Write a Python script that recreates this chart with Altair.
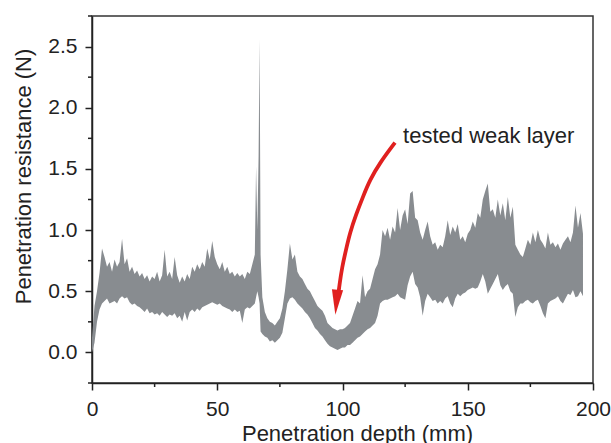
import altair as alt
import pandas as pd

# ---- signal envelope (depth mm, upper / lower resistance N)
depth = [0, 1, 2, 3, 4, 5, 6, 7, 8, 9, 10, 11, 12, 13, 14, 15, 16, 17, 18, 19,
         20, 21, 22, 23, 24, 25, 26, 27, 28, 29, 30, 31, 32, 33, 34, 35, 36, 37, 38, 39,
         40, 41, 42, 43, 44, 45, 46, 47, 48, 49, 50, 51, 52, 53, 54, 55, 56, 57, 58, 59,
         60, 61, 62, 63, 64, 65, 65.5, 66, 66.5, 66.9, 67.3, 68, 69,
         70, 71, 72, 73, 74, 75, 76, 77, 78, 79, 80, 81, 82, 83, 84, 85, 86, 87, 88, 89,
         90, 91, 92, 93, 94, 95, 96, 97, 98, 99, 100, 101, 102, 103, 104, 105, 106, 107, 108, 109,
         110, 111, 112, 113, 114, 115, 116, 117, 118, 119, 120, 121, 122, 123, 124, 125, 126, 127, 128, 129,
         130, 131, 132, 133, 134, 135, 136, 137, 138, 139, 140, 141, 142, 143, 144, 145, 146, 147, 148, 149,
         150, 151, 152, 153, 154, 155, 156, 157, 158, 159, 160, 161, 162, 163, 164, 165, 166, 167, 168, 169,
         170, 171, 172, 173, 174, 175, 176, 177, 178, 179, 180, 181, 182, 183, 184, 185, 186, 187, 188, 189,
         190, 191, 192, 193, 194, 195, 196]
upper = [0.12, 0.38, 0.50, 0.65, 0.85, 0.78, 0.70, 0.74, 0.66, 0.76, 0.70, 0.74, 0.93, 0.72, 0.77, 0.66, 0.70, 0.64, 0.67, 0.62,
         0.65, 0.60, 0.63, 0.58, 0.62, 0.60, 0.66, 0.58, 0.63, 0.84, 0.62, 0.66, 0.60, 0.78, 0.63, 0.57, 0.62, 0.58, 0.64, 0.60,
         0.70, 0.66, 0.72, 0.68, 0.74, 0.70, 0.85, 0.76, 0.91, 0.78, 0.72, 0.68, 0.74, 0.66, 0.70, 0.64, 0.66, 0.62, 0.65, 0.62,
         0.64, 0.60, 0.66, 0.64, 0.72, 0.80, 1.52, 1.00, 1.60, 2.56, 0.80, 0.45, 0.33,
         0.28, 0.25, 0.24, 0.22, 0.25, 0.28, 0.36, 0.50, 0.68, 0.89, 0.76, 0.80, 0.66, 0.62, 0.60, 0.56, 0.52, 0.50, 0.46, 0.42,
         0.38, 0.36, 0.34, 0.30, 0.24, 0.22, 0.20, 0.19, 0.18, 0.19, 0.19, 0.20, 0.22, 0.24, 0.30, 0.36, 0.42, 0.40, 0.63, 0.45,
         0.50, 0.52, 0.60, 0.68, 0.72, 0.80, 1.00, 0.95, 1.02, 0.92, 1.03, 0.98, 1.18, 1.00, 1.12, 1.17, 1.05, 1.30, 1.32, 1.10,
         1.08, 0.98, 0.92, 1.00, 1.07, 0.95, 0.88, 0.90, 0.84, 0.88, 0.86, 0.95, 1.08, 0.96, 1.03, 0.98, 1.05, 0.92, 0.95, 0.90,
         0.97, 1.00, 1.07, 1.02, 1.14, 1.10, 1.25, 1.32, 1.38, 1.15, 1.17, 1.10, 1.25, 1.12, 1.22, 1.08, 1.27, 1.10, 1.19, 0.88,
         0.84, 0.80, 0.78, 0.85, 0.92, 0.88, 0.98, 0.90, 1.00, 0.92, 0.89, 0.85, 0.98, 0.88, 0.90, 0.86, 0.89, 0.84, 0.89, 0.92,
         0.95, 0.90, 0.98, 1.20, 1.02, 1.14, 0.97]
lower = [0.00, 0.08, 0.25, 0.35, 0.40, 0.42, 0.44, 0.40, 0.41, 0.42, 0.40, 0.44, 0.46, 0.44, 0.45, 0.41, 0.39, 0.40, 0.38, 0.37,
         0.35, 0.33, 0.36, 0.32, 0.33, 0.31, 0.32, 0.30, 0.33, 0.31, 0.29, 0.31, 0.30, 0.32, 0.28, 0.30, 0.25, 0.33, 0.26, 0.33,
         0.35, 0.33, 0.36, 0.34, 0.37, 0.38, 0.39, 0.40, 0.41, 0.40, 0.39, 0.40, 0.38, 0.37, 0.36, 0.35, 0.33, 0.35, 0.33, 0.34,
         0.24, 0.35, 0.37, 0.36, 0.38, 0.40, 0.45, 0.50, 0.45, 0.40, 0.17, 0.15, 0.13,
         0.12, 0.09, 0.10, 0.08, 0.10, 0.12, 0.16, 0.28, 0.40, 0.44, 0.45, 0.43, 0.40, 0.38, 0.36, 0.33, 0.31, 0.28, 0.24, 0.20,
         0.18, 0.15, 0.13, 0.10, 0.07, 0.05, 0.04, 0.03, 0.02, 0.03, 0.04, 0.04, 0.06, 0.06, 0.08, 0.10, 0.12, 0.13, 0.15, 0.17,
         0.19, 0.20, 0.22, 0.24, 0.30, 0.40, 0.42, 0.43, 0.43, 0.44, 0.45, 0.46, 0.48, 0.45, 0.44, 0.43, 0.55, 0.62, 0.66, 0.56,
         0.53, 0.45, 0.30, 0.42, 0.48, 0.45, 0.42, 0.43, 0.40, 0.42, 0.40, 0.44, 0.46, 0.40, 0.37, 0.44, 0.48, 0.46, 0.48, 0.49,
         0.51, 0.52, 0.53, 0.52, 0.53, 0.58, 0.64, 0.58, 0.48, 0.52, 0.56, 0.60, 0.64, 0.55, 0.51, 0.54, 0.56, 0.50, 0.48, 0.29,
         0.37, 0.40, 0.40, 0.42, 0.43, 0.41, 0.40, 0.42, 0.43, 0.38, 0.32, 0.28, 0.40, 0.42, 0.43, 0.44, 0.46, 0.42, 0.40, 0.44,
         0.48, 0.47, 0.51, 0.45, 0.46, 0.50, 0.46]

# ---- annotation: label and curved arrow (data coordinates)
note_text = ["tested weak layer"]
note_x = [124.2]
note_y = [1.712]
arrow_x = [120.96, 114.97, 110.98, 108.18, 105.39, 102.99, 101.40, 99.80, 98.80, 98.40]
arrow_y = [1.715, 1.551, 1.412, 1.273, 1.126, 0.979, 0.840, 0.693, 0.554, 0.488]
head_x = [97.58]
head_y = [0.410]

x_major = [0, 50, 100, 150, 200]
x_minor = [25, 75, 125, 175]
y_major = [0.0, 0.5, 1.0, 1.5, 2.0, 2.5]
y_minor = [-0.25, 0.25, 0.75, 1.25, 1.75, 2.25, 2.75]

FONT = "Liberation Sans"
GRAY = "#888c90"
RED = "#e0201f"
INK = "#222222"

sig = pd.DataFrame({"depth": depth, "hi": upper, "lo": lower})
arrow = pd.DataFrame({"x": arrow_x, "y": arrow_y, "i": list(range(len(arrow_x)))})
head = pd.DataFrame({"x": head_x, "y": head_y})
note = pd.DataFrame({"x": note_x, "y": note_y, "t": note_text})
xmin_df = pd.DataFrame({"v": x_minor})
ymin_df = pd.DataFrame({"v": y_minor})

xscale = alt.Scale(domain=[0, 200], nice=False, zero=False)
yscale = alt.Scale(domain=[-0.25, 2.75], nice=False, zero=False)

xaxis = alt.Axis(
    title="Penetration depth (mm)", values=x_major, grid=False, format="d",
    tickSize=7, labelFlush=False, labelOverlap=False, labelPadding=8, labelFontSize=21,
    titleFontSize=22, titleX=265, titleY=57, titleBaseline="alphabetic", titleAlign="center",
)
yaxis = alt.Axis(
    title="Penetration resistance (N)", values=y_major, grid=False, format=".1f",
    tickSize=7, labelOverlap=False, labelPadding=8, labelFontSize=21,
    titleFontSize=22, titleX=-62, titleY=160, titleBaseline="alphabetic", titleAlign="center",
)

band = alt.Chart(sig).mark_area(color=GRAY, opacity=1, interpolate="linear").encode(
    x=alt.X("depth:Q", scale=xscale, axis=xaxis),
    y=alt.Y("lo:Q", scale=yscale, axis=yaxis),
    y2="hi:Q",
)

ytick_minor = alt.Chart(ymin_df).mark_rule(color=INK, strokeWidth=1.5).encode(
    y=alt.Y("v:Q", scale=yscale), x=alt.value(-4), x2=alt.value(0)
)
xtick_minor = alt.Chart(xmin_df).mark_rule(color=INK, strokeWidth=1.5).encode(
    x=alt.X("v:Q", scale=xscale), y=alt.value(367), y2=alt.value(371)
)

arrow_line = alt.Chart(arrow).mark_line(color=RED, strokeWidth=3.8, interpolate="basis").encode(
    x=alt.X("x:Q", scale=xscale),
    y=alt.Y("y:Q", scale=yscale),
    order="i:Q",
)

arrow_head = alt.Chart(head).mark_point(
    shape="M -0.45 -1 L 0.45 -1 L 0 1 Z", size=625, filled=True, color=RED, opacity=1, angle=5
).encode(x=alt.X("x:Q", scale=xscale), y=alt.Y("y:Q", scale=yscale))

label = alt.Chart(note).mark_text(
    align="left", baseline="alphabetic", font=FONT, fontSize=22, color=INK
).encode(x=alt.X("x:Q", scale=xscale), y=alt.Y("y:Q", scale=yscale), text="t:N")

chart = alt.layer(band, ytick_minor, xtick_minor, arrow_line, arrow_head, label).properties(
    width=501, height=367,
    background="white",
    autosize=alt.AutoSizeParams(type="none"),
    padding={"left": 92, "top": 16, "right": 18, "bottom": 60},
).configure_view(
    stroke="#333333", strokeWidth=1.5
).configure_axis(
    labelFont=FONT, titleFont=FONT, labelColor=INK, titleColor=INK,
    titleFontWeight="normal", domainColor=INK, domainWidth=1.5,
    tickColor=INK, tickWidth=1.5,
)

chart.save("out.html", embed_options={"renderer": "svg", "actions": False})
